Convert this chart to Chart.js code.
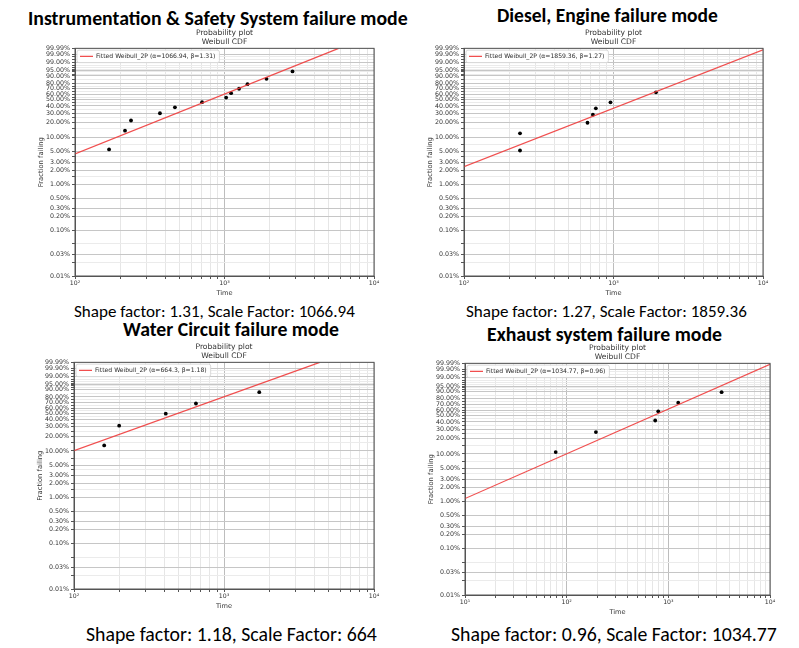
<!DOCTYPE html>
<html><head><meta charset="utf-8">
<script src="https://cdn.jsdelivr.net/npm/chart.js@4.4.1/dist/chart.umd.min.js"></script>
<style>
html,body{margin:0;padding:0;background:#fff;}
body{width:799px;height:648px;position:relative;overflow:hidden;}
canvas{position:absolute;}
.txt{position:absolute;white-space:nowrap;line-height:1;transform:translateY(-50%);color:#000;font-family:Carlito, Lato, sans-serif;}
.ttl{font-weight:bold;}
</style></head><body>
<div id="t1" class="txt ttl">Instrumentation &amp; Safety System failure mode</div>
<div id="t2" class="txt ttl">Diesel, Engine failure mode</div>
<div id="t3" class="txt ttl">Water Circuit failure mode</div>
<div id="t4" class="txt ttl">Exhaust system failure mode</div>
<div id="s1" class="txt">Shape factor: 1.31, Scale Factor: 1066.94</div>
<div id="s2" class="txt">Shape factor: 1.27, Scale Factor: 1859.36</div>
<div id="s3" class="txt">Shape factor: 1.18, Scale Factor: 664</div>
<div id="s4" class="txt">Shape factor: 0.96, Scale Factor: 1034.77</div>
<canvas id="c1" width="348" height="270" style="left:34px;top:28px"></canvas>
<canvas id="c2" width="348" height="270" style="left:423px;top:28px"></canvas>
<canvas id="c3" width="349" height="269" style="left:33px;top:342px"></canvas>
<canvas id="c4" width="354" height="274" style="left:424px;top:343px"></canvas>
<script>
// ---------- data ----------
const ISS_TIMES = [169, 216, 237, 370, 466, 708, 1026, 1107, 1251, 1425, 1910, 2851];
const ISS_FRACTIONS = [0.056, 0.137, 0.218, 0.298, 0.379, 0.460, 0.540, 0.621, 0.702, 0.782, 0.863, 0.944];
const ISS_FIT_TIMES = [100, 5800];
const ISS_FIT_FRACTIONS = [0.045, 0.9999];

const DIESEL_TIMES = [237, 237, 670, 728, 762, 955, 1923];
const DIESEL_FRACTIONS = [0.053, 0.121, 0.197, 0.280, 0.364, 0.458, 0.636];
const DIESEL_FIT_TIMES = [100, 10000];
const DIESEL_FIT_FRACTIONS = [0.024, 0.9998];

const WATER_TIMES = [159, 200, 409, 650, 1718];
const WATER_FRACTIONS = [0.130, 0.315, 0.500, 0.685, 0.870];
const WATER_FIT_TIMES = [100, 4350];
const WATER_FIT_FRACTIONS = [0.102, 0.9999];

const EXHAUST_TIMES = [78, 194, 743, 796, 1251, 3342];
const EXHAUST_FRACTIONS = [0.109, 0.266, 0.422, 0.578, 0.734, 0.891];
const EXHAUST_FIT_TIMES = [10, 10000];
const EXHAUST_FIT_FRACTIONS = [0.0116, 0.99985];

const LEGEND_LABELS = [
  'Fitted Weibull_2P (\u03b1=1066.94, \u03b2=1.31)',
  'Fitted Weibull_2P (\u03b1=1859.36, \u03b2=1.27)',
  'Fitted Weibull_2P (\u03b1=664.3, \u03b2=1.18)',
  'Fitted Weibull_2P (\u03b1=1034.77, \u03b2=0.96)'
];

// tick labels
const Y_MAJOR_TICKS = [0.0001, 0.0003, 0.001, 0.002, 0.003, 0.005, 0.01, 0.02, 0.03, 0.05,
  0.1, 0.2, 0.3, 0.4, 0.5, 0.6, 0.7, 0.8, 0.9, 0.95, 0.99, 0.999, 0.9999];
const Y_MINOR_TICKS = [0.0002, 0.0005, 0.015, 0.04, 0.07, 0.15, 0.25, 0.35, 0.45, 0.55, 0.65, 0.75,
  0.85, 0.92, 0.94, 0.96, 0.97, 0.98, 0.995, 0.998];
const X_MAJOR_TICKS = [10, 100, 1000, 10000];
const X_MINOR_MULTIPLIERS = [2, 3, 4, 5, 6, 7, 8, 9];
const X_TICK_LABELS = {10: '10\u00b9', 100: '10\u00b2', 1000: '10\u00b3', 10000: '10\u2074'};

// ---------- Weibull probability scale ----------
const tf = p => Math.log(-Math.log(1 - p));
class WeibullScale extends Chart.Scale {
  static id = 'weibull';
  static defaults = {};
  parse(raw) { return Number(raw); }
  determineDataLimits() { this.min = this.options.min; this.max = this.options.max; }
  buildTicks() {
    const all = Y_MAJOR_TICKS.map(v => ({value: v, major: true}))
      .concat(Y_MINOR_TICKS.map(v => ({value: v, major: false})));
    all.sort((a, b) => a.value - b.value);
    return all;
  }
  configure() {
    super.configure();
    this._ws = tf(this.min);
    this._wr = tf(this.max) - this._ws;
  }
  getPixelForValue(v) { return this.getPixelForDecimal((tf(v) - this._ws) / this._wr); }
  getValueForPixel(px) { const w = this._ws + this.getDecimalForPixel(px) * this._wr; return 1 - Math.exp(-Math.exp(w)); }
  getPixelForTick(i) { return this.getPixelForValue(this.ticks[i].value); }
  getLabelForValue(v) { return (v * 100).toFixed(2) + '%'; }
}
Chart.register(WeibullScale);
Chart.defaults.font.family = "'DejaVu Sans', sans-serif";

const LEGEND_PAD = 5;
const framePlugin = {
  id: 'frame',
  beforeDraw(chart) {
    // put the in-plot legend at the top-left corner of the plotting area
    const lg = chart.legend;
    if (!lg) return;
    const d = chart.chartArea.top - lg.top;
    if (d) {
      lg.top += d; lg.bottom += d;
      (lg.legendHitBoxes || []).forEach(h => { h.top += d; });
    }
  },
  beforeDatasetsDraw(chart) {
    const ctx = chart.ctx, lg = chart.legend;
    if (lg && lg.legendHitBoxes && lg.legendHitBoxes.length) {
      const h = lg.legendHitBoxes[0];
      const top = lg.top + LEGEND_PAD;
      ctx.save();
      ctx.fillStyle = 'rgba(255,255,255,0.92)';
      ctx.strokeStyle = '#cfcfcf';
      ctx.lineWidth = 0.8;
      ctx.beginPath();
      ctx.roundRect(h.left - 3, top - 3.2, h.width + 7, h.height + 6.4, 2);
      ctx.fill(); ctx.stroke();
      ctx.restore();
      lg.draw();
    }
  },
  afterDraw(chart) {
    const ctx = chart.ctx, a = chart.chartArea;
    ctx.save();
    ctx.strokeStyle = '#555';
    ctx.lineWidth = 1;
    ctx.strokeRect(a.left, a.top, a.right - a.left, a.bottom - a.top);
    ctx.restore();
  }
};

function makePanel(id, times, fracs, fitT, fitF, label, xMin, xMax) {
  new Chart(document.getElementById(id), {
    type: 'scatter',
    data: {
      datasets: [
        { label: label, data: fitT.map((t, i) => ({x: t, y: fitF[i]})), showLine: true,
          borderColor: 'rgba(240,60,60,0.9)', borderWidth: 1.2, pointRadius: 0, fill: false },
        { label: 'Failures', data: times.map((t, i) => ({x: t, y: fracs[i]})), showLine: false,
          pointRadius: 1.9, backgroundColor: '#000', borderColor: '#000', borderWidth: 0 }
      ]
    },
    options: {
      responsive: false, animation: false, devicePixelRatio: 1,
      layout: {padding: {left: 0, right: 8, top: 0, bottom: 0}},
      plugins: {
        title: {display: true, fullSize: false, text: ['Probability plot', 'Weibull CDF'],
          font: {size: 7.6, weight: 'normal', lineHeight: 1.14}, color: '#333', padding: {top: 1, bottom: 2}},
        legend: {position: 'chartArea', align: 'start',
          labels: {filter: it => it.datasetIndex === 0, usePointStyle: true, pointStyle: 'line',
            pointStyleWidth: 13, boxHeight: 6, font: {size: 6.1}, color: '#333', padding: LEGEND_PAD}},
        tooltip: {enabled: false}
      },
      scales: {
        x: {
          type: 'logarithmic', min: xMin, max: xMax,
          afterBuildTicks: s => {
            const t = [];
            X_MAJOR_TICKS.forEach(m => {
              if (m >= xMin && m <= xMax) t.push({value: m, major: true});
              X_MINOR_MULTIPLIERS.forEach(k => { const v = m * k; if (v > xMin && v < xMax) t.push({value: v, major: false}); });
            });
            t.sort((a, b) => a.value - b.value);
            s.ticks = t;
          },
          afterFit: s => { s.height = 22; },
          ticks: {autoSkip: false, maxRotation: 0, minRotation: 0, font: {size: 6.2}, color: '#333', padding: 1,
            callback: v => X_TICK_LABELS[v] || ''},
          grid: {color: c => (c.tick && c.tick.major) ? '#bdbdbd' : '#e6e6e6', lineWidth: 1, tickLength: 3, tickColor: '#555'},
          border: {color: '#555', width: 1},
          title: {display: true, text: 'Time', font: {size: 6.6}, color: '#333', padding: {top: 0, bottom: 0.6}}
        },
        y: {
          type: 'weibull', min: 0.0001, max: 0.9999,
          afterFit: s => { s.width = 41; },
          ticks: {autoSkip: false, font: {size: 6.3}, color: '#333', padding: 2,
            callback: (v, i, ticks) => ticks[i].major ? (v * 100).toFixed(2) + '%' : ''},
          grid: {color: c => (c.tick && c.tick.major) ? '#c6c6c6' : '#ebebeb', lineWidth: 1, tickLength: 3, tickColor: '#555'},
          border: {color: '#555', width: 1},
          title: {display: true, text: 'Fraction failing', font: {size: 6.8}, color: '#333', padding: {top: 3.6, bottom: 0}}
        }
      }
    },
    plugins: [framePlugin]
  });
}

makePanel('c1', ISS_TIMES, ISS_FRACTIONS, ISS_FIT_TIMES, ISS_FIT_FRACTIONS, LEGEND_LABELS[0], 100, 10000);
makePanel('c2', DIESEL_TIMES, DIESEL_FRACTIONS, DIESEL_FIT_TIMES, DIESEL_FIT_FRACTIONS, LEGEND_LABELS[1], 100, 10000);
makePanel('c3', WATER_TIMES, WATER_FRACTIONS, WATER_FIT_TIMES, WATER_FIT_FRACTIONS, LEGEND_LABELS[2], 100, 10000);
makePanel('c4', EXHAUST_TIMES, EXHAUST_FRACTIONS, EXHAUST_FIT_TIMES, EXHAUST_FIT_FRACTIONS, LEGEND_LABELS[3], 10, 10000);

// ---------- fit headline / caption text to its width ----------
function place(id, x, cy, w) {
  const el = document.getElementById(id);
  const cs = getComputedStyle(el);
  const ctx = document.createElement('canvas').getContext('2d');
  ctx.font = cs.fontWeight + ' 100px ' + cs.fontFamily;
  const m = ctx.measureText(el.textContent).width;
  el.style.fontSize = (100 * w / m).toFixed(2) + 'px';
  el.style.left = x + 'px';
  el.style.top = cy + 'px';
}
place('t1', 28, 19, 380);
place('t2', 497, 15.5, 221);
place('t3', 123, 330, 216);
place('t4', 487, 334.5, 235);
place('s1', 74, 311.5, 281);
place('s2', 466, 311.5, 281);
place('s3', 86, 635, 291);
place('s4', 451, 634.5, 326);
</script>
</body></html>
